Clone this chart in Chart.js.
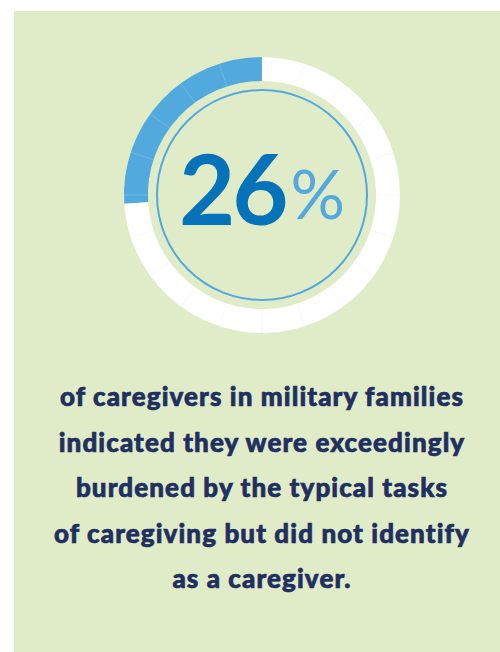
<!DOCTYPE html>
<html>
<head>
<meta charset="utf-8">
<script src="https://cdn.jsdelivr.net/npm/chart.js@4"></script>
<style>
    html, body { margin: 0; padding: 0; background: #ffffff; }
    body { width: 500px; height: 652px; position: relative; overflow: hidden; font-family: 'Lato', sans-serif; }
    .panel { position: absolute; left: 14px; top: 11px; width: 486px; height: 641px; background: #e0ebc8; }
    .ring { position: absolute; left: 112px; top: 45px; width: 300px; height: 300px; }
    .big { position: absolute; left: 112px; top: 140px; width: 300px; text-align: center; line-height: 96px; white-space: nowrap; }
    .big .num { font-size: 97px; font-weight: 700; color: #0672b9; letter-spacing: -3px; }
    .big .pct { font-size: 68px; font-weight: 400; color: #52a9de; position: relative; top: -6px; margin-left: 5px; }
    .caption { position: absolute; left: 12px; top: 374px; width: 500px; text-align: center;
               font-size: 26px; font-weight: 900; letter-spacing: 1.1px; line-height: 45.5px; color: #1f2f5f;
               -webkit-text-stroke: 0.7px #1f2f5f; }
</style>
</head>
<body>
<div class="panel"></div>
<div class="ring"><canvas id="ringChart"></canvas></div>
<div class="big"><span class="num" id="bigNum"></span><span class="pct">%</span></div>
<div class="caption" id="caption"></div>

<script>
// Share of caregivers: burdened but not self-identifying vs. the rest
const labels = ['Burdened, not identifying as caregiver', 'Other caregivers'];
const values = [26, 74];
const colors = ['#52a9de', '#ffffff'];
const segmentCount = 20; // faint dividers around the ring

const captionLines = [
    'of caregivers in military families',
    'indicated they were exceedingly',
    'burdened by the typical tasks',
    'of caregiving but did not identify',
    'as a caregiver.'
];

document.getElementById('bigNum').textContent = values[0];
document.getElementById('caption').innerHTML = captionLines.join('<br>');

// thin dividers on the ring + inner outline circle
const ringDecor = {
    id: 'ringDecor',
    afterDatasetsDraw(chart) {
        const arc = chart.getDatasetMeta(0).data[0];
        const { x, y, innerRadius, outerRadius } = arc.getProps(['x', 'y', 'innerRadius', 'outerRadius'], true);
        const ctx = chart.ctx;
        ctx.save();
        ctx.strokeStyle = 'rgba(215,226,200,0.22)';
        ctx.lineWidth = 1;
        for (let i = 0; i < segmentCount; i++) {
            const a = -Math.PI / 2 + i * 2 * Math.PI / segmentCount;
            ctx.beginPath();
            ctx.moveTo(x + Math.cos(a) * innerRadius, y + Math.sin(a) * innerRadius);
            ctx.lineTo(x + Math.cos(a) * outerRadius, y + Math.sin(a) * outerRadius);
            ctx.stroke();
        }
        ctx.beginPath();
        ctx.strokeStyle = '#52a9de';
        ctx.lineWidth = 2;
        ctx.arc(x, y, 105, 0, Math.PI * 2);
        ctx.stroke();
        ctx.restore();
    }
};

new Chart(document.getElementById('ringChart'), {
    type: 'doughnut',
    data: {
        labels: labels,
        datasets: [{
            data: values,
            backgroundColor: colors,
            borderWidth: 0,
            radius: 138,
            cutout: 124
        }]
    },
    options: {
        responsive: true,
        maintainAspectRatio: false,
        animation: false,
        rotation: -values[0] * 3.6, // blue part ends at 12 o'clock
        layout: { padding: 0 },
        plugins: {
            legend: { display: false },
            tooltip: { enabled: false }
        }
    },
    plugins: [ringDecor]
});
</script>
</body>
</html>
